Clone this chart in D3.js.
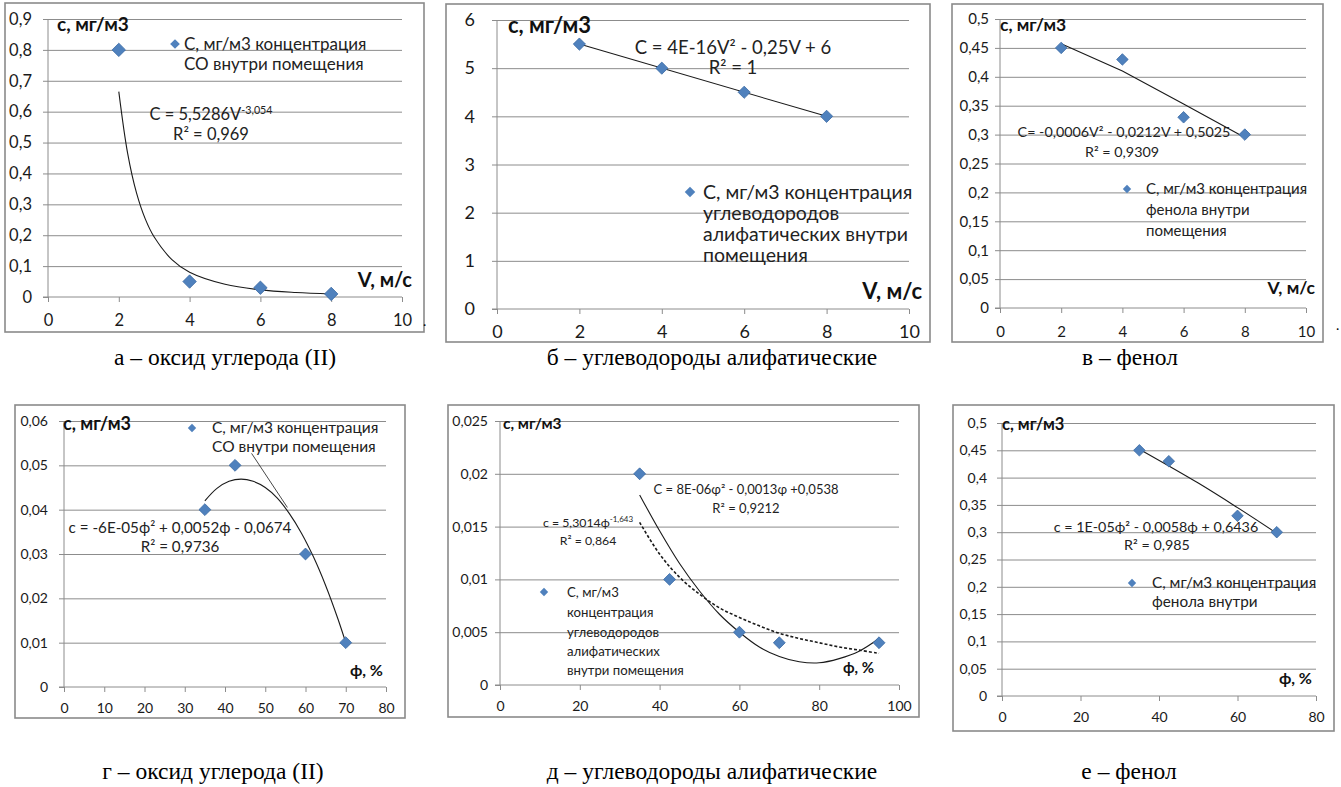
<!DOCTYPE html>
<html><head><meta charset="utf-8">
<script src="https://cdn.jsdelivr.net/npm/d3@7"></script>
<style>body{margin:0;background:#fff}svg{display:block}</style>
</head><body>
<svg id="chart" width="1341" height="787"></svg>
<script>
// ---------- data ----------
// а – оксид углерода (II), c vs V
const aV = [2, 4, 6, 8];
const aC = [0.8, 0.05, 0.03, 0.01];
const aFitV = [2, 2.25, 2.5, 2.75, 3, 3.5, 4, 5, 6, 7, 8];
const aFitC = [0.665, 0.465, 0.337, 0.252, 0.194, 0.121, 0.080, 0.041, 0.023, 0.0145, 0.0097];
const aXTicks = [0, 2, 4, 6, 8, 10];
const aYTicks = [0, 0.1, 0.2, 0.3, 0.4, 0.5, 0.6, 0.7, 0.8, 0.9];
// б – углеводороды алифатические, c vs V
const bV = [2, 4, 6, 8];
const bC = [5.5, 5, 4.5, 4];
const bFitV = [2, 8];
const bFitC = [5.5, 4];
const bXTicks = [0, 2, 4, 6, 8, 10];
const bYTicks = [0, 1, 2, 3, 4, 5, 6];
// в – фенол, c vs V
const cV = [2, 4, 6, 8];
const cC = [0.45, 0.43, 0.33, 0.30];
const cFitV = [2, 4, 6, 8];
const cFitC = [0.457, 0.41, 0.353, 0.295];
const cXTicks = [0, 2, 4, 6, 8, 10];
const cYTicks = [0, 0.05, 0.1, 0.15, 0.2, 0.25, 0.3, 0.35, 0.4, 0.45, 0.5];
// г – оксид углерода (II), c vs ϕ
const gPhi = [35, 42.5, 60, 70];
const gC = [0.04, 0.05, 0.03, 0.01];
const gFitPhi = [35, 38, 41, 44, 47, 50, 53, 56, 59, 62, 65, 68, 70];
const gFitC = [0.0420, 0.0448, 0.0464, 0.0469, 0.0464, 0.0450, 0.0426, 0.0391, 0.0347, 0.0293, 0.0229, 0.0155, 0.0100];
const gStrayPhi = [46.6, 55.5];
const gStrayC = [0.0527, 0.0405];
const gXTicks = [0, 10, 20, 30, 40, 50, 60, 70, 80];
const gYTicks = [0, 0.01, 0.02, 0.03, 0.04, 0.05, 0.06];
// д – углеводороды алифатические, c vs ϕ
const dPhi = [35, 42.5, 60, 70, 95];
const dC = [0.02, 0.01, 0.005, 0.004, 0.004];
const dFitPhi = [35, 40, 45, 50, 55, 60, 65, 70, 75, 80, 85, 90, 95];
const dFitC = [0.0180, 0.0146, 0.0115, 0.0089, 0.0067, 0.0050, 0.0036, 0.0027, 0.0022, 0.0021, 0.0025, 0.0032, 0.0044];
const dPowC = [0.0154, 0.0124, 0.0102, 0.0086, 0.0073, 0.0064, 0.0056, 0.0049, 0.0044, 0.0040, 0.0036, 0.0033, 0.0030];
const dXTicks = [0, 20, 40, 60, 80, 100];
const dYTicks = [0, 0.005, 0.01, 0.015, 0.02, 0.025];
// е – фенол, c vs ϕ
const ePhi = [35, 42.5, 60, 70];
const eC = [0.45, 0.43, 0.33, 0.30];
const eFitPhi = [35, 50, 60, 70];
const eFitC = [0.452, 0.39, 0.345, 0.298];
const eXTicks = [0, 20, 40, 60, 80];
const eYTicks = [0, 0.05, 0.1, 0.15, 0.2, 0.25, 0.3, 0.35, 0.4, 0.45, 0.5];

const captions = ["а – оксид углерода (II)", "б – углеводороды алифатические", "в – фенол",
                  "г – оксид углерода (II)", "д – углеводороды алифатические", "е – фенол"];
const yTitle = "с, мг/м3";
const xTitleV = "V, м/с";
const xTitlePhi = "ϕ, %";

// ---------- drawing ----------
const svg = d3.select("#chart");
const FONT = "Lato, 'Open Sans', sans-serif";
const GRID = "#8c8c8c";
const BLUE = "#4f81bd";
const fmt = v => String(+v.toFixed(4)).replace(".", ",");

function panel(p) {
  const g = svg.append("g");
  g.append("rect").attr("x", p.frame[0]).attr("y", p.frame[1])
    .attr("width", p.frame[2] - p.frame[0]).attr("height", p.frame[3] - p.frame[1])
    .attr("fill", "#fff").attr("stroke", "#8a8a8a").attr("stroke-width", 1.6);
  const x = d3.scaleLinear().domain(p.xDomain).range([p.x0, p.x1]);
  const y = d3.scaleLinear().domain(p.yDomain).range([p.y0, p.yTop]);
  // gridlines
  g.append("g").attr("transform", `translate(${p.x0},0)`)
    .call(d3.axisLeft(y).tickValues(p.yTicks.filter(t => t !== 0)).tickSize(-(p.x1 - p.x0)).tickFormat(""))
    .call(s => s.select(".domain").remove())
    .call(s => s.selectAll("line").attr("stroke", GRID).attr("stroke-width", 1));
  // y axis
  g.append("g").attr("transform", `translate(${p.x0},0)`)
    .call(d3.axisLeft(y).tickValues(p.yTicks).tickSize(5).tickPadding(p.yPad).tickFormat(fmt))
    .call(s => s.select(".domain").attr("stroke", GRID).attr("d", `M0,${p.y0}V${p.yTop}`))
    .call(s => s.selectAll("line").attr("stroke", GRID))
    .call(s => s.selectAll("text").attr("font-family", FONT).attr("font-size", p.tickFs).attr("fill", "#1a1a1a"));
  // x axis
  g.append("g").attr("transform", `translate(0,${p.y0})`)
    .call(d3.axisBottom(x).tickValues(p.xTicks).tickSize(5).tickFormat(fmt))
    .call(s => s.select(".domain").attr("stroke", GRID).attr("d", `M${p.x0 - 5},0H${p.x1}`))
    .call(s => s.selectAll("line").attr("stroke", GRID))
    .call(s => s.selectAll("text").attr("font-family", FONT).attr("font-size", p.tickFs).attr("fill", "#1a1a1a")
      .attr("y", p.xLabOff).attr("dy", "0.35em"));
  // fit lines
  (p.fits || []).forEach(f => {
    g.append("path").datum(d3.zip(f.x, f.y))
      .attr("fill", "none").attr("stroke", "#1a1a1a").attr("stroke-width", f.w || 1.1)
      .attr("stroke-dasharray", f.dash || null)
      .attr("d", d3.line().x(d => x(d[0])).y(d => y(d[1])).curve(f.straight ? d3.curveLinear : d3.curveCatmullRom.alpha(0.5)));
  });
  // markers
  const sym = d3.symbol().type(d3.symbolDiamond2).size(p.mSize);
  g.append("g").selectAll("path").data(d3.zip(p.px, p.py)).join("path")
    .attr("transform", d => `translate(${x(d[0])},${y(d[1])})`)
    .attr("d", sym).attr("fill", BLUE).attr("stroke", "#3a6aa3").attr("stroke-width", 0.8);
  // axis titles
  g.append("text").attr("x", p.yt[0]).attr("y", p.yt[1]).attr("dy", "0.35em")
    .attr("font-family", FONT).attr("font-weight", "bold").attr("font-size", p.ytFs).attr("fill", "#111").text(yTitle);
  g.append("text").attr("x", p.xt[0]).attr("y", p.xt[1]).attr("dy", "0.35em").attr("text-anchor", "end")
    .attr("font-family", FONT).attr("font-weight", "bold").attr("font-size", p.xtFs).attr("fill", "#111").text(p.xtText);
  // legend
  g.append("path").attr("transform", `translate(${p.leg.mx},${p.leg.my})`)
    .attr("d", d3.symbol().type(d3.symbolDiamond2).size(p.leg.ms)).attr("fill", BLUE);
  p.leg.lines.forEach((t, i) => {
    g.append("text").attr("x", p.leg.tx).attr("y", p.leg.ys[i]).attr("dy", "0.35em")
      .attr("font-family", FONT).attr("font-size", p.leg.fs).attr("fill", "#222").text(t);
  });
  // equations
  (p.eqs || []).forEach(e => {
    const t = g.append("text").attr("x", e.x).attr("y", e.y).attr("dy", "0.35em").attr("text-anchor", "middle")
      .attr("font-family", FONT).attr("font-size", e.fs).attr("fill", "#222");
    t.append("tspan").text(e.t);
    if (e.sup) t.append("tspan").attr("baseline-shift", "super").attr("font-size", e.fs * 0.65).text(e.sup);
  });
  // caption
  svg.append("text").attr("x", p.cap[0]).attr("y", p.cap[1]).attr("dy", "0.35em").attr("text-anchor", "middle")
    .attr("font-family", "'Liberation Serif', 'Times New Roman', serif").attr("font-size", 23.5).attr("fill", "#000")
    .text(p.capText);
  if (p.dot) svg.append("text").attr("x", p.dot[0]).attr("y", p.dot[1]).attr("font-family", FONT).attr("font-size", 14).text(".");
}

panel({
  frame: [5, 3, 424, 332], x0: 48, x1: 402, y0: 297, yTop: 19,
  xDomain: [0, 10], yDomain: [0, 0.9], xTicks: aXTicks, yTicks: aYTicks,
  yPad: 11, xLabOff: 23, tickFs: 16.5, ytFs: 19, xtFs: 20,
  px: aV, py: aC, mSize: 115,
  fits: [{ x: aFitV, y: aFitC }],
  yt: [57, 24], xt: [412, 280], xtText: xTitleV,
  leg: { mx: 175, my: 44, ms: 60, tx: 184, ys: [44, 64], fs: 17, lines: ["С, мг/м3 концентрация", "СО внутри помещения"] },
  eqs: [{ x: 211, y: 114, fs: 16.5, t: "C = 5,5286V", sup: "-3,054" }, { x: 211, y: 134, fs: 16.5, t: "R² = 0,969" }],
  cap: [225, 357], capText: captions[0], dot: [423, 326]
});
panel({
  frame: [446, 4, 930, 342], x0: 497, x1: 909, y0: 309, yTop: 20,
  xDomain: [0, 10], yDomain: [0, 6], xTicks: bXTicks, yTicks: bYTicks,
  yPad: 17, xLabOff: 23, tickFs: 18, ytFs: 22, xtFs: 22,
  px: bV, py: bC, mSize: 95,
  fits: [{ x: bFitV, y: bFitC, straight: true }],
  yt: [508, 25], xt: [922, 291], xtText: xTitleV,
  leg: { mx: 690, my: 192, ms: 70, tx: 703, ys: [192, 213, 234, 255], fs: 19.5,
    lines: ["С, мг/м3 концентрация", "углеводородов", "алифатических внутри", "помещения"] },
  eqs: [{ x: 733, y: 48, fs: 18.5, t: "C = 4E-16V² - 0,25V + 6" }, { x: 733, y: 68, fs: 18.5, t: "R² = 1" }],
  cap: [712, 357], capText: captions[1]
});
panel({
  frame: [952, 4, 1323, 342], x0: 1000, x1: 1306, y0: 308, yTop: 19,
  xDomain: [0, 10], yDomain: [0, 0.5], xTicks: cXTicks, yTicks: cYTicks,
  yPad: 6, xLabOff: 24, tickFs: 15, ytFs: 17.5, xtFs: 17.5,
  px: cV, py: cC, mSize: 85,
  fits: [{ x: cFitV, y: cFitC, straight: true }],
  yt: [1000, 25], xt: [1315, 288], xtText: xTitleV,
  leg: { mx: 1127, my: 189, ms: 45, tx: 1146, ys: [189, 210, 231], fs: 15,
    lines: ["С, мг/м3 концентрация", "фенола внутри", "помещения"] },
  eqs: [{ x: 1124, y: 132, fs: 14.3, t: "C= -0,0006V² - 0,0212V + 0,5025" }, { x: 1122, y: 152, fs: 14.3, t: "R² = 0,9309" }],
  cap: [1130, 357], capText: captions[2], dot: [1336, 330]
});
panel({
  frame: [15, 405, 405, 718], x0: 64, x1: 386, y0: 687, yTop: 421,
  xDomain: [0, 80], yDomain: [0, 0.06], xTicks: gXTicks, yTicks: gYTicks,
  yPad: 11, xLabOff: 21, tickFs: 14, ytFs: 18, xtFs: 16,
  px: gPhi, py: gC, mSize: 90,
  fits: [{ x: gFitPhi, y: gFitC }, { x: gStrayPhi, y: gStrayC, straight: true, w: 0.8 }],
  yt: [63, 424], xt: [383, 670], xtText: xTitlePhi,
  leg: { mx: 192, my: 428, ms: 45, tx: 212, ys: [428, 447], fs: 15.5, lines: ["С, мг/м3 концентрация", "СО внутри помещения"] },
  eqs: [{ x: 180, y: 528, fs: 15.2, t: "c = -6E-05ϕ² + 0,0052ϕ - 0,0674" }, { x: 180, y: 547, fs: 15.2, t: "R² = 0,9736" }],
  cap: [213, 771], capText: captions[3]
});
panel({
  frame: [448, 405, 919, 717], x0: 500, x1: 899, y0: 685, yTop: 421,
  xDomain: [0, 100], yDomain: [0, 0.025], xTicks: dXTicks, yTicks: dYTicks,
  yPad: 7, xLabOff: 21, tickFs: 14, ytFs: 15.5, xtFs: 15,
  px: dPhi, py: dC, mSize: 90,
  fits: [{ x: dFitPhi, y: dFitC }, { x: dFitPhi, y: dPowC, dash: "3,2", w: 1.6 }],
  yt: [503, 424], xt: [874, 668], xtText: xTitlePhi,
  leg: { mx: 544, my: 592, ms: 45, tx: 567, ys: [592, 612, 632, 651, 670], fs: 13.2,
    lines: ["С, мг/м3", "концентрация", "углеводородов", "алифатических", "внутри помещения"] },
  eqs: [{ x: 746, y: 489, fs: 13, t: "C = 8E-06φ² - 0,0013φ +0,0538" }, { x: 746, y: 508, fs: 13, t: "R² = 0,9212" },
        { x: 588, y: 523, fs: 12.3, t: "c = 5,3014ϕ", sup: "-1,643" }, { x: 588, y: 541, fs: 12.3, t: "R² = 0,864" }],
  cap: [712, 771], capText: captions[4]
});
panel({
  frame: [953, 405, 1334, 731], x0: 1002, x1: 1316, y0: 696, yTop: 423,
  xDomain: [0, 80], yDomain: [0, 0.5], xTicks: eXTicks, yTicks: eYTicks,
  yPad: 10, xLabOff: 21, tickFs: 14, ytFs: 16.5, xtFs: 16,
  px: ePhi, py: eC, mSize: 85,
  fits: [{ x: eFitPhi, y: eFitC }],
  yt: [1002, 424], xt: [1312, 678], xtText: xTitlePhi,
  leg: { mx: 1132, my: 583, ms: 45, tx: 1152, ys: [583, 602], fs: 15.3, lines: ["С, мг/м3 концентрация", "фенола внутри"] },
  eqs: [{ x: 1156, y: 527, fs: 14.3, t: "c = 1E-05ϕ² - 0,0058ϕ + 0,6436" }, { x: 1157, y: 545, fs: 14.3, t: "R² = 0,985" }],
  cap: [1129, 771], capText: captions[5]
});
</script>
</body></html>
